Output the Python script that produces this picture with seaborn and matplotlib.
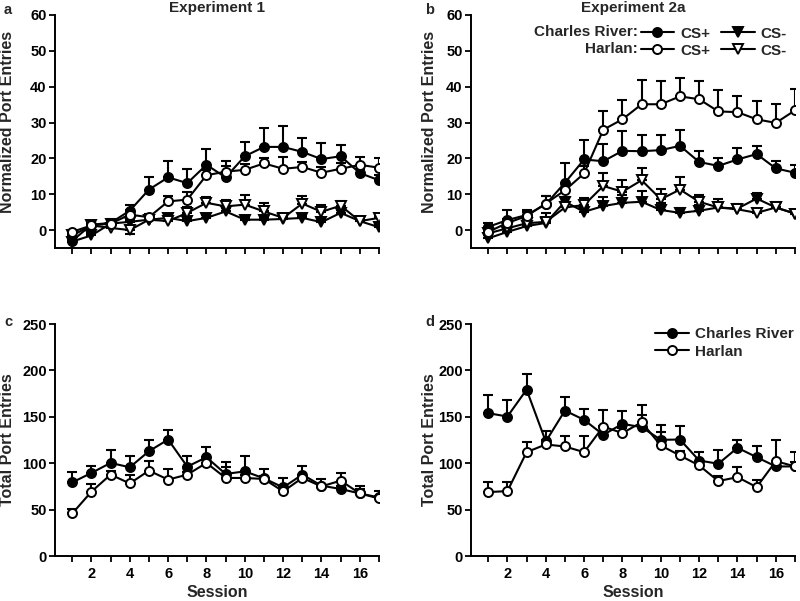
import matplotlib
matplotlib.use("Agg")
import matplotlib.pyplot as plt
from matplotlib.lines import Line2D
import seaborn as sns

sessions = list(range(1, 18))

# panel a - Experiment 1, normalized port entries
exp1_cr_csp = [-3.0, 1.5, 2.0, 5.4, 11.3, 14.7, 13.1, 18.2, 14.7, 20.6, 23.2, 23.2, 21.8, 19.8, 20.6, 15.9, 13.9]
exp1_cr_csp_err = [0.8, 1.0, 1.0, 1.7, 3.4, 4.5, 3.8, 4.5, 4.7, 4.1, 5.3, 5.9, 4.0, 4.5, 3.1, 1.0, 1.4]
exp1_h_csp = [-0.5, 1.3, 1.8, 4.3, 3.6, 8.0, 8.5, 15.3, 16.3, 16.8, 18.6, 17.1, 17.6, 16.0, 17.1, 18.2, 17.4]
exp1_h_csp_err = [0.6, 0.6, 0.6, 1.2, 1.0, 1.6, 2.2, 1.5, 1.5, 1.5, 1.5, 3.3, 1.5, 1.5, 1.5, 2.2, 2.7]
exp1_cr_csm = [-3.2, -1.5, 1.8, 2.3, 2.9, 3.4, 2.5, 3.4, 5.2, 2.9, 2.9, 3.1, 3.4, 2.2, 4.8, 2.5, 0.8]
exp1_cr_csm_err = [0.5, 0.8, 0.5, 0.5, 0.8, 0.8, 0.6, 0.8, 1.0, 0.5, 0.5, 0.5, 0.5, 0.5, 0.8, 0.5, 0.5]
exp1_h_csm = [-1.5, 1.3, 0.6, 0.0, 2.9, 2.5, 4.8, 7.6, 6.6, 7.1, 5.2, 3.4, 7.4, 5.1, 6.8, 2.5, 3.4]
exp1_h_csm_err = [0.5, 0.5, 0.5, -1.2, 0.8, 0.8, 1.5, 1.7, 1.9, 2.8, 2.4, 0.6, 2.2, 1.8, 1.2, 0.4, 0.6]

# panel b - Experiment 2a, normalized port entries
exp2_cr_csp = [0.9, 2.8, 4.2, 7.2, 13.2, 19.7, 19.2, 22.1, 22.0, 22.3, 23.5, 19.0, 17.9, 19.7, 21.2, 17.2, 16.0]
exp2_cr_csp_err = [1.0, 2.8, 1.5, 2.2, 5.4, 5.3, 4.7, 5.5, 4.4, 4.2, 4.4, 3.0, 2.3, 3.1, 2.3, 2.1, 2.1]
exp2_h_csp = [-0.5, 2.0, 3.9, 7.4, 11.1, 15.8, 28.0, 30.9, 35.1, 35.1, 37.3, 36.5, 33.1, 32.9, 30.9, 29.9, 33.4]
exp2_h_csp_err = [0.8, 1.0, 1.2, 2.0, 2.0, 2.0, 5.3, 5.5, 6.7, 6.5, 5.1, 5.0, 6.1, 4.5, 5.0, 5.2, 6.0]
exp2_cr_csm = [-2.3, -0.5, 1.1, 2.0, 7.9, 5.1, 6.7, 7.6, 7.9, 5.6, 4.8, 5.4, 6.3, 6.0, 8.8, 6.3, 4.6]
exp2_cr_csm_err = [0.8, 0.8, 0.6, 0.8, 1.2, 1.0, 2.6, 2.1, 3.0, 2.0, 1.4, 1.5, 2.4, 1.3, 1.6, 1.2, 1.0]
exp2_h_csm = [-0.9, 0.5, 1.9, 2.3, 6.3, 7.0, 12.3, 10.7, 13.9, 8.6, 11.3, 7.9, 6.3, 5.8, 4.8, 6.3, 4.6]
exp2_h_csm_err = [0.8, 1.2, 1.2, 2.5, 1.5, 2.0, 3.6, 3.2, 3.5, 2.8, 3.5, 1.9, 1.5, 1.0, 1.2, 1.6, 1.1]

# panel c - Experiment 1, total port entries
exp1_cr_total = [79.3, 89.5, 100.3, 95.6, 112.9, 125.5, 96.3, 106.4, 88.4, 91.2, 83.7, 73.9, 87.7, 75.8, 72.2, 67.4, 63.1]
exp1_cr_total_err = [11.6, 7.9, 14.4, 11.9, 11.6, 9.8, 11.9, 10.8, 12.6, 16.3, 10.1, 10.2, 9.7, 7.2, 3.0, 5.0, 6.5]
exp1_h_total = [45.8, 69.3, 87.7, 78.2, 92.0, 82.3, 87.7, 100.3, 84.1, 84.1, 83.0, 69.6, 84.1, 75.0, 81.2, 67.4, 62.0]
exp1_h_total_err = [4.7, 8.3, 4.0, 9.5, 10.8, 11.5, 3.0, 3.5, 11.5, 3.0, 3.0, 3.0, 3.0, 3.0, 8.3, 8.4, 3.0]

# panel d - Experiment 2a, total port entries
exp2_cr_total = [153.9, 150.3, 179.3, 123.4, 156.7, 146.7, 130.6, 142.4, 138.8, 125.2, 125.5, 102.9, 99.4, 116.6, 106.5, 96.5, 96.5]
exp2_cr_total_err = [20.1, 18.3, 16.9, 11.8, 14.4, 11.8, 10.0, 14.3, 13.6, 16.1, 14.4, 9.7, 14.3, 7.9, 11.5, 5.0, 16.1]
exp2_h_total = [68.9, 69.9, 111.9, 120.2, 118.0, 111.9, 139.5, 132.4, 144.2, 119.1, 108.3, 97.6, 80.7, 85.0, 74.2, 102.2, 96.5]
exp2_h_total_err = [10.4, 9.7, 10.8, 5.0, 11.8, 17.2, 18.0, 5.0, 18.6, 15.0, 5.0, 4.0, 5.0, 10.8, 7.2, 22.3, 5.0]

sns.set_theme(style="ticks")
plt.rcParams["font.family"] = ["Liberation Sans", "DejaVu Sans"]
plt.rcParams["font.weight"] = "bold"
plt.rcParams["axes.labelweight"] = "bold"
plt.rcParams["axes.titleweight"] = "bold"

W, H = 800, 601
fig = plt.figure(figsize=(8, 6.01), dpi=100)


def px_axes(left, top, right, bottom):
    return fig.add_axes([left / W, 1 - bottom / H, (right - left) / W, (bottom - top) / H])


def draw_series(ax, y, err, marker, filled, ms=6.5):
    up = [max(e, 0) for e in err]
    down = [max(-e, 0) for e in err]
    ax.errorbar(sessions, y, yerr=[down, up], fmt="none", ecolor="black",
                elinewidth=1.5, capsize=3.5, capthick=1.5, zorder=2)
    sns.lineplot(x=sessions, y=y, ax=ax, color="black", lw=1.5, marker=marker, ms=ms,
                 mfc="black" if filled else "white", mec="black", mew=1.4, zorder=3)


def style_axis(ax, ymax, ystep, ylab, show_xlabels):
    ax.set_xlim(0.1, 17)
    ax.set_xticks(sessions)
    if show_xlabels:
        ax.set_xticklabels([str(s) if s % 2 == 0 else "" for s in sessions])
        ax.set_xlabel("Session", fontsize=11.5, labelpad=3)
    else:
        ax.set_xticklabels([])
    ax.set_yticks(range(0, ymax + 1, ystep))
    ax.set_ylabel(ylab, fontsize=11.5)
    for s in ["top", "right"]:
        ax.spines[s].set_visible(False)
    for s in ["left", "bottom"]:
        ax.spines[s].set_linewidth(1.4)
        ax.spines[s].set_color("black")
    ax.tick_params(axis="both", direction="out", length=4, width=1.3, color="black",
                   labelsize=10.5, pad=2, labelcolor="black")
    ax.tick_params(axis="x", pad=4)
    for lab in ax.get_xticklabels() + ax.get_yticklabels():
        lab.set_fontweight("bold")


ax_a = px_axes(55, 15, 379, 248)
ax_b = px_axes(471, 15, 795, 248)
ax_c = px_axes(55, 324, 379, 556)
ax_d = px_axes(471, 324, 795, 556)

# top panels
for ax, crp, crpe, hp, hpe, crm, crme, hm, hme in [
    (ax_a, exp1_cr_csp, exp1_cr_csp_err, exp1_h_csp, exp1_h_csp_err,
     exp1_cr_csm, exp1_cr_csm_err, exp1_h_csm, exp1_h_csm_err),
    (ax_b, exp2_cr_csp, exp2_cr_csp_err, exp2_h_csp, exp2_h_csp_err,
     exp2_cr_csm, exp2_cr_csm_err, exp2_h_csm, exp2_h_csm_err),
]:
    draw_series(ax, crm, crme, "v", True, 7)
    draw_series(ax, hm, hme, "v", False, 7)
    draw_series(ax, crp, crpe, "o", True)
    draw_series(ax, hp, hpe, "o", False)
    ax.set_ylim(-5, 60)
    style_axis(ax, 60, 10, "Normalized Port Entries", False)

# bottom panels
for ax, cr, cre, h, he in [
    (ax_c, exp1_cr_total, exp1_cr_total_err, exp1_h_total, exp1_h_total_err),
    (ax_d, exp2_cr_total, exp2_cr_total_err, exp2_h_total, exp2_h_total_err),
]:
    draw_series(ax, cr, cre, "o", True)
    draw_series(ax, h, he, "o", False)
    ax.set_ylim(0, 250)
    style_axis(ax, 250, 50, "Total Port Entries", True)

ax_a.yaxis.set_label_coords(-0.125, 0.54)
ax_c.yaxis.set_label_coords(-0.125, 0.5)
ax_b.yaxis.set_label_coords(-0.105, 0.54)
ax_d.yaxis.set_label_coords(-0.105, 0.5)

ax_a.set_title("Experiment 1", fontsize=11, pad=1)
ax_b.set_title("Experiment 2a", fontsize=11, pad=1)

for label, x, y in [("a", 8, 10), ("b", 430, 10), ("c", 8, 322), ("d", 430, 322)]:
    fig.text(x / W, 1 - y / H, label, fontsize=10.5, fontweight="bold", ha="center", va="center")


def handle(marker, filled):
    return Line2D([], [], color="black", lw=1.5, marker=marker, ms=6.5 if marker == "o" else 7,
                  mfc="black" if filled else "white", mec="black", mew=1.4)


ax_b.legend([handle("o", True), handle("o", False), handle("v", True), handle("v", False)],
            ["CS+", "CS+", "CS-", "CS-"], ncol=2, loc="upper right",
            bbox_to_anchor=(0.975, 0.95), frameon=False, fontsize=11,
            handlelength=2.2, handletextpad=0.4, columnspacing=0.7,
            labelspacing=0.2, borderpad=0, borderaxespad=0)
ax_b.text(0.515, 0.927, "Charles River:", transform=ax_b.transAxes, ha="right", va="center",
          fontsize=11, fontweight="bold")
ax_b.text(0.515, 0.852, "Harlan:", transform=ax_b.transAxes, ha="right", va="center",
          fontsize=11, fontweight="bold")

ax_d.legend([handle("o", True), handle("o", False)], ["Charles River", "Harlan"],
            loc="upper right", bbox_to_anchor=(0.995, 0.985), frameon=False, fontsize=11,
            handlelength=2.2, handletextpad=0.4, labelspacing=0.2, borderpad=0,
            borderaxespad=0)

fig.savefig("out.png", dpi=100)
